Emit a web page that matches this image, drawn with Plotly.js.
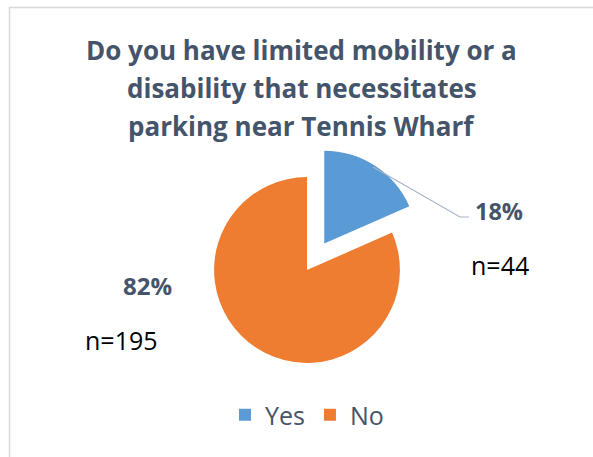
<!DOCTYPE html>
<html>
<head>
<meta charset="utf-8">
<script src="https://cdn.plot.ly/plotly-3.0.1.min.js"></script>
<style>html,body{margin:0;padding:0;background:#fff;}#chart{width:593px;height:457px;}</style>
</head>
<body>
<div id="chart"></div>
<script>
const titleLines = ["Do you have limited mobility or a", "disability that necessitates", "parking near Tennis Wharf"];
const categories = ["Yes", "No"];
const counts = [44, 195];
const percentLabels = ["18%", "82%"];
const countLabels = ["n=44", "n=195"];
const colors = ["#5B9BD5", "#EE7D31"];
const pulls = [0.34, 0];

const W = 593, H = 457;
const px = x => x / W;
const py = y => 1 - y / H;
const darkText = "#44546A";
const font = "'Open Sans', sans-serif";

const trace = {
  type: "pie",
  labels: categories,
  values: counts,
  sort: false,
  direction: "clockwise",
  rotation: 0,
  pull: pulls,
  marker: {colors: colors, line: {width: 0}},
  textinfo: "none",
  hoverinfo: "label+value+percent",
  domain: {x: [px(182.5), px(431.5)], y: [py(394.5), py(145.5)]}
};

const annotations = [];
const lineY = [50, 88, 126];
titleLines.forEach((t, i) => {
  annotations.push({text: "<b>" + t + "</b>", x: px(302), y: py(lineY[i]), xref: "paper", yref: "paper",
    xanchor: "center", yanchor: "middle", showarrow: false,
    font: {family: font, size: 26, color: darkText}});
});
annotations.push({text: "<b>" + percentLabels[0] + "</b>", x: px(473), y: py(211), xref: "paper", yref: "paper",
  xanchor: "left", yanchor: "middle", showarrow: false, font: {family: font, size: 23.5, color: darkText}});
annotations.push({text: countLabels[0], x: px(469), y: py(265), xref: "paper", yref: "paper",
  xanchor: "left", yanchor: "middle", showarrow: false, font: {family: font, size: 25, color: "#000"}});
annotations.push({text: "<b>" + percentLabels[1] + "</b>", x: px(121), y: py(285), xref: "paper", yref: "paper",
  xanchor: "left", yanchor: "middle", showarrow: false, font: {family: font, size: 24, color: darkText}});
annotations.push({text: countLabels[1], x: px(83), y: py(340), xref: "paper", yref: "paper",
  xanchor: "left", yanchor: "middle", showarrow: false, font: {family: font, size: 25, color: "#000"}});

const shapes = [
  {type: "rect", xref: "paper", yref: "paper", x0: px(9.5), y0: -0.1, x1: 1.1, y1: py(7.5),
   line: {color: "#D9D9D9", width: 1.5}, fillcolor: "rgba(0,0,0,0)"},
  {type: "path", xref: "paper", yref: "paper",
   path: "M " + px(373) + " " + py(167) + " L " + px(460) + " " + py(217) + " L " + px(469) + " " + py(217),
   line: {color: "#A6B4C8", width: 1.2}}
];

const layout = {
  width: W, height: H,
  margin: {l: 0, r: 0, t: 0, b: 0},
  paper_bgcolor: "#fff",
  showlegend: true,
  legend: {orientation: "h", x: px(307), xanchor: "center", y: py(415), yanchor: "middle",
    font: {family: font, size: 25, color: darkText}, traceorder: "normal", itemwidth: 30},
  annotations: annotations,
  shapes: shapes
};

Plotly.newPlot("chart", [trace], layout, {displayModeBar: false, staticPlot: true});
</script>
</body>
</html>
